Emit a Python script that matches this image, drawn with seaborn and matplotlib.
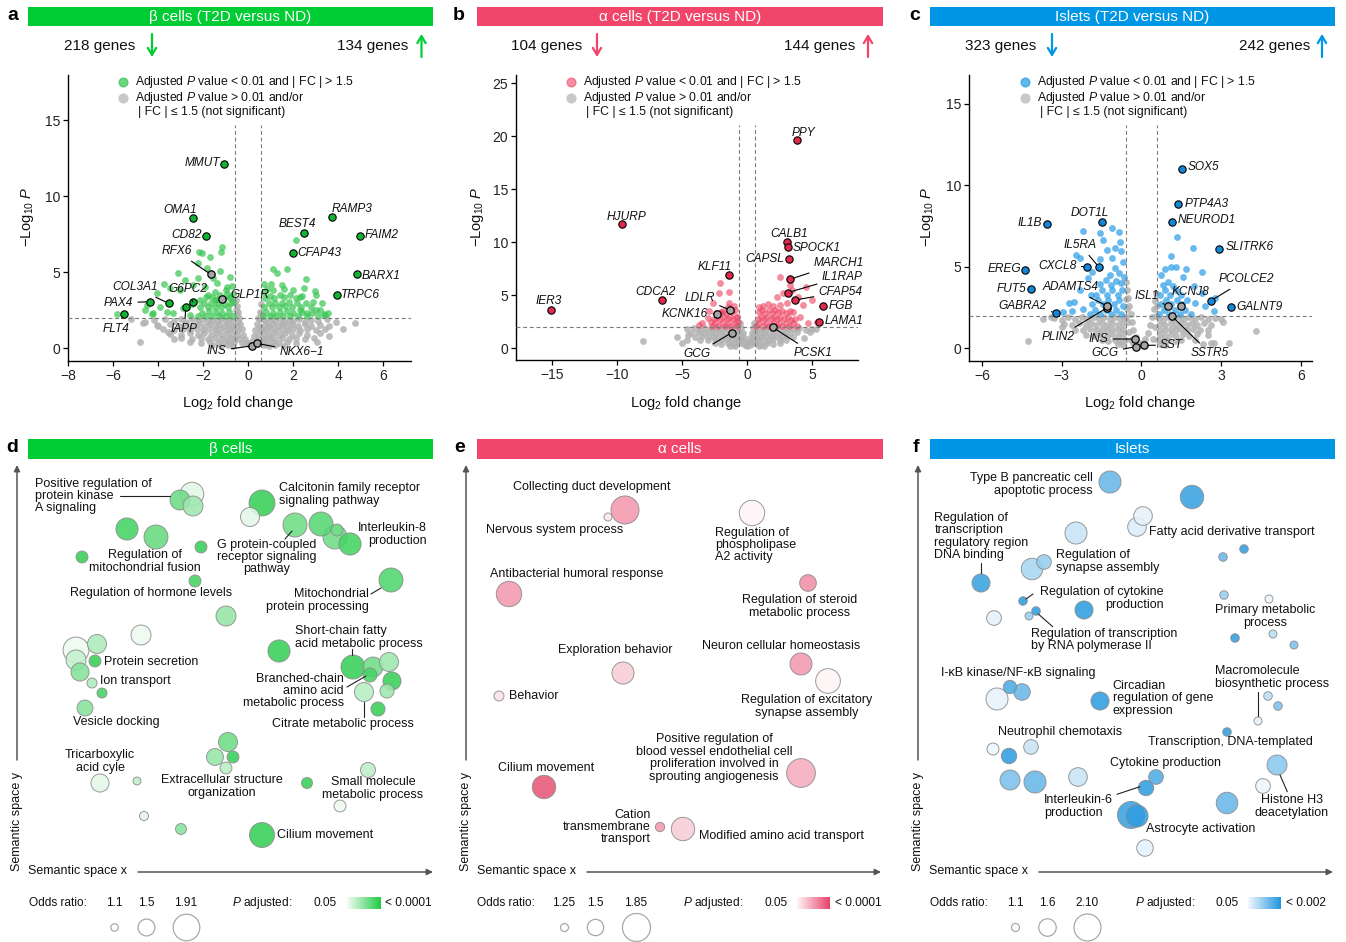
import numpy as np
import pandas as pd
import matplotlib
matplotlib.use("Agg")
import matplotlib.pyplot as plt
import seaborn as sns
from matplotlib.colors import LinearSegmentedColormap
from matplotlib.patches import Rectangle, FancyArrowPatch
from matplotlib.lines import Line2D
from matplotlib.ticker import MultipleLocator

# ------------------------------------------------------------------
# Volcano data (log2 fold change, -log10 P)
# ------------------------------------------------------------------
beta_counts = (218, 134)
beta_grey = [
    (-4.6, 1.7), (-4.2, 1.85), (-3.7, 1.9), (-3.3, 1.8), (-3.0, 1.9), (-2.75, 1.75), (-2.5, 1.9), (-2.25, 1.8),
    (-2.0, 1.92), (-1.8, 1.75), (-1.6, 1.88), (-1.4, 1.78), (-1.2, 1.92), (-1.0, 1.8), (-0.85, 1.9), (-0.7, 1.78),
    (0.7, 1.85), (0.85, 1.75), (1.0, 1.9), (1.2, 1.8), (1.4, 1.92), (1.6, 1.75), (1.8, 1.88), (2.0, 1.8),
    (2.25, 1.92), (2.5, 1.75), (2.8, 1.88), (3.1, 1.8), (3.5, 1.9), (3.9, 1.75),
    (-4.0, 1.5), (-3.5, 1.6), (-3.1, 1.45), (-2.8, 1.6), (-2.5, 1.5), (-2.2, 1.58), (-1.95, 1.45), (-1.7, 1.6),
    (-1.5, 1.5), (-1.3, 1.6), (-1.1, 1.45), (-0.9, 1.58), (-0.72, 1.5), (0.72, 1.55), (0.9, 1.45), (1.1, 1.6),
    (1.3, 1.5), (1.5, 1.6), (1.7, 1.45), (1.95, 1.58), (2.2, 1.5), (2.5, 1.6), (2.8, 1.45), (3.2, 1.55), (3.6, 1.5),
    (-3.8, 1.25), (-3.3, 1.2), (-2.9, 1.3), (-2.6, 1.2), (-2.3, 1.3), (-2.0, 1.22), (-1.75, 1.3), (-1.5, 1.2),
    (-1.25, 1.3), (-1.0, 1.2), (-0.8, 1.28), (-0.65, 1.2), (0.65, 1.25), (0.8, 1.18), (1.0, 1.3), (1.25, 1.2),
    (1.5, 1.3), (1.75, 1.2), (2.0, 1.28), (2.3, 1.2), (2.6, 1.3), (3.0, 1.2), (3.4, 1.25),
    (-3.5, 0.95), (-3.0, 0.9), (-2.6, 1.0), (-2.25, 0.9), (-1.95, 1.0), (-1.65, 0.9), (-1.4, 0.98), (-1.15, 0.9),
    (-0.9, 1.0), (-0.7, 0.9), (0.7, 0.95), (0.9, 0.88), (1.15, 1.0), (1.4, 0.9), (1.65, 1.0), (1.95, 0.9),
    (2.25, 0.98), (2.6, 0.9), (3.19, 0.99),
    (-3.0, 0.65), (-2.5, 0.6), (-2.1, 0.7), (-1.8, 0.6), (-1.5, 0.68), (-1.2, 0.6), (-0.95, 0.7), (-0.75, 0.6),
    (-0.6, 0.68), (0.6, 0.65), (0.75, 0.6), (0.95, 0.7), (1.2, 0.6), (1.5, 0.68), (1.8, 0.6), (2.1, 0.7),
    (2.5, 0.6), (2.9, 0.65),
    (-2.6, 0.42), (-2.1, 0.38), (-1.7, 0.45), (-1.35, 0.38), (-1.05, 0.42), (-0.8, 0.35), (-0.62, 0.42),
    (0.62, 0.4), (0.8, 0.35), (1.05, 0.42), (1.35, 0.38), (1.7, 0.42), (2.1, 0.38), (3.04, 0.44),
    (-1.6, 0.22), (-1.2, 0.18), (-0.9, 0.22), (-0.7, 0.15), (0.7, 0.2), (0.9, 0.15), (1.2, 0.22), (1.6, 0.18),
    (-0.55, 3.2), (-0.5, 2.8), (-0.45, 2.4), (-0.4, 2.0), (-0.35, 1.6), (-0.3, 1.25), (-0.25, 0.9), (-0.15, 0.6),
    (-0.05, 0.35), (0.05, 0.3), (0.15, 0.5), (0.25, 0.8), (0.3, 1.2), (0.38, 1.6), (0.45, 2.0), (0.5, 2.4),
    (0.55, 2.9), (-0.52, 2.2), (-0.48, 1.7), (-0.45, 1.2), (-0.5, 0.9), (-0.4, 0.6), (0.45, 0.9), (0.5, 1.4),
    (0.52, 1.9), (0.4, 0.55), (-0.3, 0.35), (0.3, 0.35), (-0.55, 1.4), (0.55, 1.2), (-0.56, 2.5), (0.56, 2.2),
    (-4.81, 0.39), (-4.67, 1.64), (-4.07, 1.53), (-3.56, 1.10), (4.74, 1.69), (-3.3, 0.6), (-5.2, 1.9),
    (4.2, 1.3), (3.6, 0.8),
]
beta_sig = [
    (-1.19, 6.68), (-1.21, 6.31), (-2.18, 6.31), (-2.08, 6.29), (-1.70, 6.02), (-2.22, 5.58), (-3.11, 4.93),
    (-1.85, 5.26), (-1.26, 5.10), (-0.81, 4.71), (-2.81, 4.49), (-2.22, 4.60), (-1.56, 4.60), (-3.73, 4.25),
    (-3.48, 3.94), (-3.04, 3.83), (-2.44, 4.16), (-1.93, 4.05), (-1.41, 4.27), (-0.96, 4.05), (-4.07, 3.61),
    (-4.52, 2.85), (-4.59, 2.52), (-4.22, 2.30), (-3.93, 2.74), (-3.63, 2.41), (-3.33, 2.30), (-2.92, 2.63),
    (-5.85, 2.26), (-2.15, 3.18), (-1.78, 3.50), (-1.48, 3.18), (-0.81, 3.39), (-0.67, 3.07), (-2.6, 2.2),
    (-2.5, 2.9), (-4.3, 2.25),
    (-2.25, 2.1), (-2.05, 2.35), (-1.9, 2.1), (-1.75, 2.45), (-1.6, 2.15), (-1.45, 2.4), (-1.3, 2.1),
    (-1.15, 2.35), (-1.0, 2.1), (-0.85, 2.4), (-0.7, 2.15), (-2.15, 2.75), (-1.95, 2.95), (-1.8, 2.7),
    (-1.65, 3.0), (-1.5, 2.75), (-1.35, 2.95), (-1.2, 2.7), (-1.05, 2.9), (-0.9, 2.7), (-0.75, 2.95),
    (-1.9, 3.35), (-1.6, 3.4), (-1.4, 3.25), (-1.25, 3.5), (-1.1, 3.3), (-0.95, 3.55), (-0.8, 3.3),
    (-0.68, 3.6), (-1.5, 3.7), (-1.0, 3.85), (-0.72, 4.1),
    (0.65, 2.1), (0.8, 2.4), (0.95, 2.1), (1.1, 2.35), (1.25, 2.1), (1.4, 2.4), (1.55, 2.15), (1.7, 2.45),
    (1.85, 2.1), (2.0, 2.35), (2.2, 2.15), (2.4, 2.4), (2.6, 2.1), (2.85, 2.3), (3.1, 2.15), (3.35, 2.25),
    (0.7, 2.75), (0.9, 2.95), (1.05, 2.7), (1.2, 3.0), (1.35, 2.75), (1.5, 3.0), (1.65, 2.8), (1.8, 3.05),
    (1.95, 2.75), (2.15, 2.95), (2.35, 2.7), (2.55, 2.95), (2.8, 2.7), (3.0, 2.5), (0.75, 3.3), (0.95, 3.45),
    (1.15, 3.3), (1.4, 3.5), (1.6, 3.35), (1.85, 3.5), (2.1, 3.3), (2.4, 3.45),
    (2.10, 7.12), (1.70, 5.19), (1.08, 5.19), (1.26, 4.93), (0.71, 4.20), (0.99, 4.20), (1.48, 4.16),
    (2.55, 4.53), (2.47, 3.94), (2.96, 3.77), (3.01, 3.50), (1.11, 3.83), (2.0, 3.83), (2.30, 3.39),
    (2.89, 3.07), (3.26, 2.96), (3.19, 2.52), (3.41, 2.19), (3.56, 2.30), (2.30, 2.52), (2.59, 2.30),
    (0.85, 3.9), (1.6, 3.9), (0.7, 3.7),
]
beta_genes = ["MMUT", "OMA1", "CD82", "RFX6", "COL3A1", "G6PC2", "PAX4", "FLT4", "IAPP", "GLP1R",
              "INS", "NKX6−1", "RAMP3", "BEST4", "FAIM2", "CFAP43", "BARX1", "TRPC6"]
beta_gene_lfc = [-1.08, -2.46, -1.89, -1.67, -3.54, -2.47, -4.37, -5.51, -2.78, -1.17,
                 0.18, 0.37, 3.73, 2.46, 4.96, 1.99, 4.82, 3.93]
beta_gene_nlp = [12.13, 8.58, 7.40, 4.86, 2.96, 3.06, 3.06, 2.27, 2.69, 3.24,
                 0.17, 0.33, 8.60, 7.60, 7.40, 6.28, 4.88, 3.50]
beta_hollow = ["RFX6", "GLP1R", "INS", "NKX6−1"]

alpha_counts = (104, 144)
alpha_grey = [
    (-4.6, 1.8), (-4.1, 1.9), (-3.6, 1.75), (-3.2, 1.9), (-2.8, 1.8), (-2.4, 1.92), (-2.0, 1.78), (-1.6, 1.9),
    (-1.2, 1.8), (-0.8, 1.9), (0.8, 1.85), (1.2, 1.75), (1.6, 1.9), (2.0, 1.8), (2.4, 1.92), (2.8, 1.78),
    (3.2, 1.9), (3.6, 1.8), (4.0, 1.9), (4.5, 1.75), (5.0, 1.85),
    (-4.3, 1.45), (-3.8, 1.55), (-3.3, 1.45), (-2.9, 1.55), (-2.5, 1.45), (-2.1, 1.55), (-1.7, 1.45),
    (-1.3, 1.55), (-0.9, 1.45), (-0.65, 1.55), (0.65, 1.5), (0.9, 1.42), (1.3, 1.55), (1.7, 1.45), (2.1, 1.55),
    (2.5, 1.45), (2.9, 1.55), (3.3, 1.45), (3.8, 1.55), (4.83, 1.5),
    (-4.0, 1.1), (-3.5, 1.2), (-3.0, 1.1), (-2.6, 1.2), (-2.2, 1.1), (-1.8, 1.2), (-1.4, 1.1), (-1.0, 1.2),
    (-0.7, 1.1), (0.7, 1.15), (1.0, 1.08), (1.4, 1.2), (1.8, 1.1), (2.2, 1.2), (2.6, 1.1), (3.0, 1.2), (3.5, 1.1),
    (-4.64, 0.79), (-3.6, 0.8), (-3.0, 0.75), (-2.5, 0.85), (-2.0, 0.75), (-1.6, 0.85), (-1.2, 0.75),
    (-0.85, 0.85), (-0.6, 0.75), (0.6, 0.8), (0.85, 0.75), (1.2, 0.85), (1.6, 0.75), (2.0, 0.85), (2.5, 0.75),
    (3.0, 0.8),
    (-2.5, 0.5), (-2.0, 0.45), (-1.5, 0.52), (-1.1, 0.45), (-0.75, 0.5), (0.75, 0.5), (1.1, 0.45), (1.5, 0.52),
    (2.0, 0.45), (2.5, 0.5), (-1.3, 0.25), (-0.9, 0.2), (0.9, 0.25), (1.3, 0.2),
    (-0.55, 2.4), (-0.45, 1.9), (-0.35, 1.4), (-0.25, 0.95), (-0.1, 0.5), (0.1, 0.5), (0.25, 0.95), (0.35, 1.4),
    (0.45, 1.9), (0.55, 2.4), (-0.5, 1.3), (-0.4, 0.8), (-0.2, 0.3), (0.0, 0.2), (0.2, 0.3), (0.4, 0.8),
    (0.5, 1.3), (-0.5, 0.5), (0.5, 0.5),
    (-8.02, 0.72), (-5.41, 1.04), (-4.5, 1.3), (-5.0, 0.5), (4.4, 1.0), (5.3, 1.8),
]
alpha_sig = [
    (-2.08, 6.13), (-1.40, 5.34), (-2.16, 5.19), (-2.62, 4.25), (-1.40, 4.25), (-1.99, 3.46), (-2.77, 2.52),
    (-3.7, 2.2), (-3.5, 2.4), (-3.0, 2.9), (-2.9, 3.5), (-1.0, 4.0), (-0.8, 3.0),
    (-2.7, 2.1), (-2.45, 2.35), (-2.2, 2.1), (-1.95, 2.4), (-1.7, 2.15), (-1.45, 2.4), (-1.2, 2.1),
    (-0.95, 2.35), (-0.75, 2.1), (-2.55, 2.8), (-2.3, 3.0), (-2.05, 2.75), (-1.8, 3.0), (-1.55, 2.75),
    (-1.3, 3.0), (-1.05, 2.75), (-0.8, 2.95), (-0.7, 2.5), (-2.1, 3.35), (-1.85, 3.55), (-1.6, 3.3),
    (-1.15, 3.4), (-0.9, 3.6), (-1.5, 3.9), (-2.4, 3.3),
    (2.52, 6.76), (3.29, 5.97), (3.42, 5.5), (4.52, 5.82), (3.93, 4.87), (5.01, 4.56), (2.27, 4.87),
    (2.73, 5.25), (5.34, 2.52), (4.31, 4.09), (3.50, 3.46), (4.06, 2.99), (4.70, 2.36), (3.04, 4.24),
    (0.7, 2.1), (0.95, 2.35), (1.2, 2.1), (1.45, 2.4), (1.7, 2.15), (1.95, 2.4), (2.2, 2.1), (2.45, 2.35),
    (2.7, 2.1), (2.95, 2.4), (3.2, 2.15), (3.5, 2.35), (3.8, 2.1),
    (0.8, 2.75), (1.05, 3.0), (1.3, 2.75), (1.55, 3.0), (1.8, 2.75), (2.05, 3.0), (2.3, 2.75), (2.55, 3.0),
    (2.8, 2.75), (3.1, 2.95), (3.4, 2.7), (3.7, 2.8),
    (0.9, 3.4), (1.15, 3.6), (1.4, 3.35), (1.65, 3.6), (1.9, 3.35), (2.15, 3.65), (2.4, 3.4), (2.7, 3.55),
    (3.0, 3.3), (3.3, 3.5), (1.2, 4.0), (1.6, 4.2), (2.0, 4.0), (2.5, 4.1), (0.9, 3.9),
]
alpha_genes = ["PPY", "HJURP", "IER3", "CDCA2", "KLF11", "LDLR", "KCNK16", "GCG", "CALB1", "SPOCK1",
               "CAPSL", "MARCH1", "IL1RAP", "CFAP54", "FGB", "LAMA1", "PCSK1"]
alpha_gene_lfc = [3.80, -9.60, -15.08, -6.53, -1.42, -1.31, -2.34, -1.19, 3.04, 3.11,
                  3.19, 3.29, 3.11, 3.68, 5.85, 5.54, 1.96]
alpha_gene_nlp = [19.62, 11.70, 3.65, 4.59, 6.92, 3.62, 3.24, 1.48, 10.0, 9.59,
                  8.46, 6.51, 5.25, 4.56, 3.99, 2.52, 1.98]
alpha_hollow = ["LDLR", "KCNK16", "GCG", "PCSK1"]

islet_counts = (323, 242)
islet_grey = [
    (-3.3, 1.85), (-3.0, 1.75), (-2.75, 1.9), (-2.5, 1.8), (-2.25, 1.92), (-2.0, 1.78), (-1.8, 1.9), (-1.6, 1.8),
    (-1.4, 1.92), (-1.2, 1.78), (-1.0, 1.9), (-0.8, 1.8), (-0.65, 1.9), (0.65, 1.85), (0.8, 1.75), (1.0, 1.9),
    (1.2, 1.8), (1.4, 1.92), (1.6, 1.78), (1.8, 1.9), (2.0, 1.8), (2.25, 1.9), (2.5, 1.78), (2.75, 1.88), (3.0, 1.8),
    (-2.9, 1.5), (-2.6, 1.45), (-2.35, 1.55), (-2.1, 1.45), (-1.9, 1.55), (-1.7, 1.45), (-1.5, 1.55), (-1.3, 1.45),
    (-1.1, 1.55), (-0.9, 1.45), (-0.7, 1.55), (0.7, 1.5), (0.9, 1.45), (1.1, 1.55), (1.3, 1.45), (1.5, 1.55),
    (1.7, 1.45), (1.9, 1.55), (2.1, 1.45), (2.35, 1.55), (2.6, 1.45),
    (-2.5, 1.15), (-2.2, 1.1), (-1.95, 1.2), (-1.7, 1.1), (-1.5, 1.2), (-1.3, 1.1), (-1.1, 1.2), (-0.9, 1.1),
    (-0.7, 1.2), (0.7, 1.15), (0.9, 1.1), (1.1, 1.2), (1.3, 1.1), (1.5, 1.2), (1.7, 1.1), (1.95, 1.2), (2.2, 1.1),
    (2.5, 1.15),
    (-2.1, 0.8), (-1.8, 0.75), (-1.55, 0.85), (-1.3, 0.75), (-1.1, 0.85), (-0.9, 0.75), (-0.7, 0.85), (0.7, 0.8),
    (0.9, 0.75), (1.1, 0.85), (1.3, 0.75), (1.55, 0.85), (1.8, 0.75), (2.1, 0.85), (2.5, 0.8),
    (-1.5, 0.5), (-1.25, 0.45), (-1.0, 0.52), (-0.8, 0.45), (-0.62, 0.5), (0.62, 0.5), (0.8, 0.45), (1.0, 0.52),
    (1.25, 0.45), (1.5, 0.5), (2.0, 0.48), (-0.9, 0.25), (-0.7, 0.2), (0.7, 0.25), (0.9, 0.2), (2.3, 0.25),
    (2.6, 0.3),
    (-0.58, 4.1), (-0.55, 3.6), (-0.5, 3.1), (-0.45, 2.6), (-0.4, 2.1), (-0.35, 1.6), (-0.3, 1.15), (-0.2, 0.7),
    (-0.1, 0.35), (0.05, 0.3), (0.15, 0.55), (0.25, 0.95), (0.32, 1.4), (0.4, 1.9), (0.47, 2.4), (0.52, 2.9),
    (0.56, 3.4), (-0.55, 2.4), (-0.5, 1.6), (-0.45, 1.0), (-0.4, 0.5), (0.45, 0.6), (0.5, 1.3), (0.55, 2.0),
    (-0.58, 3.0), (-0.58, 1.9), (0.58, 2.6), (-0.3, 0.3),
    (-4.28, 0.47), (-3.71, 1.78), (-2.99, 1.33), (3.08, 1.64), (4.31, 1.06), (2.71, 0.35), (-3.4, 1.9),
    (3.3, 0.3),
]
islet_sig = [
    (-2.18, 7.22), (-1.55, 7.10), (-1.11, 7.41), (-0.86, 7.16), (-0.80, 6.55), (-1.43, 6.65), (-1.30, 6.04),
    (-0.99, 6.14), (-2.45, 5.73), (-2.30, 5.57), (-1.55, 5.46), (-1.11, 5.52), (-1.86, 4.71), (-2.55, 2.86),
    (-2.74, 2.76), (-2.93, 2.25), (-0.75, 6.0), (-0.7, 5.3), (-1.0, 4.9), (-2.0, 4.3), (-2.3, 3.6),
    (-1.9, 3.3), (-2.2, 2.4), (-2.6, 2.3),
    (-1.95, 2.1), (-1.75, 2.35), (-1.55, 2.1), (-1.35, 2.35), (-1.15, 2.1), (-0.95, 2.35), (-0.75, 2.1),
    (-1.85, 2.7), (-1.65, 2.95), (-1.45, 2.7), (-1.25, 2.95), (-1.05, 2.7), (-0.85, 2.95), (-0.68, 2.6),
    (-1.7, 3.3), (-1.5, 3.55), (-1.3, 3.3), (-1.1, 3.55), (-0.9, 3.3), (-0.72, 3.6), (-1.55, 3.95),
    (-1.35, 4.2), (-1.15, 3.9), (-0.95, 4.15), (-0.75, 4.0), (-1.2, 4.5), (-0.85, 4.6), (-0.65, 4.35),
    (1.33, 6.81), (1.92, 6.14), (1.11, 5.67), (0.89, 4.85), (1.11, 5.01), (1.67, 4.85), (2.27, 4.71),
    (1.58, 4.40), (1.96, 3.83), (2.27, 3.38), (2.77, 3.07), (2.71, 2.31), (1.3, 5.0), (0.75, 4.5), (2.0, 2.8),
    (2.4, 2.6),
    (0.65, 2.1), (0.85, 2.35), (1.05, 2.1), (1.25, 2.35), (1.45, 2.1), (1.65, 2.35), (1.85, 2.1),
    (0.72, 2.7), (0.92, 2.95), (1.12, 2.7), (1.32, 2.95), (1.52, 2.7), (1.72, 2.95), (0.68, 3.3), (0.88, 3.55),
    (1.08, 3.3), (1.28, 3.55), (1.48, 3.3), (0.8, 3.9), (1.0, 4.1), (1.2, 3.85),
]
islet_genes = ["SOX5", "PTP4A3", "NEUROD1", "SLITRK6", "PCOLCE2", "GALNT9", "KCNJ8", "ISL1", "SSTR5", "SST",
               "INS", "GCG", "PLIN2", "ADAMTS4", "GABRA2", "FUT5", "EREG", "CXCL8", "IL5RA", "DOT1L", "IL1B"]
islet_gene_lfc = [1.53, 1.39, 1.14, 2.93, 2.62, 3.36, 1.49, 0.98, 1.14, 0.10,
                  -0.25, -0.22, -1.28, -1.30, -3.22, -4.15, -4.38, -2.05, -1.59, -1.49, -3.54]
islet_gene_nlp = [10.99, 8.86, 7.78, 6.12, 2.93, 2.52, 2.62, 2.62, 1.98, 0.18,
                  0.57, 0.10, 2.50, 2.60, 2.19, 3.62, 4.81, 5.01, 4.97, 7.78, 7.61]
islet_hollow = ["KCNJ8", "ISL1", "SSTR5", "SST", "INS", "GCG", "PLIN2", "ADAMTS4"]

# ------------------------------------------------------------------
# GO term semantic-space data
# ------------------------------------------------------------------
d_sx = [16.4, 15.2, 16.5, 23.4, 22.2, 9.9, 12.8, 5.4, 17.3, 26.7, 29.3, 30.7, 30.9, 32.2, 36.3, 16.7,
        19.8, 11.3, 4.8, 6.9, 4.8, 6.7, 5.2, 6.4, 7.4, 5.7, 25.1, 32.5, 34.5, 36.1, 34.2, 36.4,
        33.6, 35.9, 35.0, 20.0, 18.7, 20.5, 19.8, 7.2, 10.9, 11.6, 15.3, 23.4, 27.9, 34.0, 31.2]
d_sy = [38.6, 38.0, 37.4, 37.7, 36.3, 35.1, 34.3, 32.3, 33.3, 35.5, 35.6, 34.3, 35.0, 33.6, 30.0, 29.9,
        26.4, 24.5, 23.0, 23.6, 22.0, 21.9, 20.8, 19.7, 18.7, 17.2, 22.9, 21.3, 21.3, 21.8, 20.5, 19.9,
        18.8, 18.9, 17.1, 13.8, 12.3, 12.3, 11.2, 9.7, 9.9, 6.4, 5.1, 4.5, 9.7, 11.0, 7.4]
d_odds = [1.78, 1.63, 1.63, 1.88, 1.59, 1.72, 1.80, 1.29, 1.29, 1.80, 1.80, 1.80, 1.29, 1.72, 1.80, 1.29,
          1.63, 1.63, 1.88, 1.59, 1.63, 1.29, 1.55, 1.21, 1.21, 1.46, 1.72, 1.80, 1.63, 1.59, 1.38, 1.55,
          1.59, 1.38, 1.38, 1.59, 1.50, 1.29, 1.29, 1.55, 1.12, 1.17, 1.25, 1.84, 1.25, 1.42, 1.29]
d_padj = [0.03, 0.0009, 0.004, 0.0002, 0.03, 0.0003, 0.0008, 0.0002, 0.0002, 0.001, 0.0005, 0.001, 0.001,
          0.0003, 0.0004, 0.0003, 0.003, 0.04, 0.04, 0.006, 0.012, 0.0002, 0.002, 0.006, 0.0003, 0.002,
          0.0002, 0.0002, 0.001, 0.004, 0.0003, 0.0002, 0.008, 0.004, 0.0002, 0.001, 0.003, 0.0002, 0.008,
          0.03, 0.01, 0.03, 0.002, 0.0002, 0.0002, 0.01, 0.04]

e_sx = [14.7, 13.0, 27.4, 3.1, 33.0, 14.5, 2.1, 32.3, 35.0, 32.3, 6.6, 18.2, 20.5]
e_sy = [37.0, 36.3, 36.7, 28.6, 29.7, 20.7, 18.4, 21.6, 19.9, 10.7, 9.3, 5.3, 5.1]
e_odds = [1.85, 1.25, 1.77, 1.77, 1.51, 1.67, 1.31, 1.67, 1.75, 1.87, 1.71, 1.29, 1.71]
e_padj = [0.002, 0.03, 0.048, 0.002, 0.0015, 0.012, 0.025, 0.002, 0.048, 0.004, 0.0002, 0.002, 0.012]

f_sx = [18.0, 26.2, 21.3, 20.7, 14.6, 10.2, 11.4, 5.1, 29.3, 31.4, 9.3, 10.6, 9.9, 6.4, 15.4, 29.4,
        33.9, 30.5, 34.3, 36.4, 8.0, 9.2, 6.7, 17.0, 33.8, 34.8, 32.8, 29.7, 6.3, 10.1, 7.9, 8.0,
        10.5, 14.8, 22.6, 21.6, 20.1, 20.7, 34.7, 33.3, 29.7, 21.5]
f_sy = [39.8, 38.3, 36.4, 35.3, 34.7, 31.1, 31.8, 29.7, 32.3, 33.1, 27.9, 26.9, 26.4, 26.2, 27.0, 28.5,
        28.1, 24.2, 24.6, 23.5, 19.3, 18.8, 18.1, 17.9, 18.4, 17.4, 15.9, 14.8, 13.1, 13.3, 12.4, 10.0,
        9.8, 10.3, 10.3, 9.2, 6.5, 6.4, 11.5, 9.4, 7.7, 3.2]
f_odds = [1.84, 1.91, 1.66, 1.66, 1.84, 1.81, 1.45, 1.63, 1.13, 1.13, 1.13, 1.13, 1.10, 1.45, 1.63, 1.13,
          1.10, 1.13, 1.10, 1.10, 1.38, 1.55, 1.84, 1.63, 1.13, 1.13, 1.10, 1.13, 1.31, 1.45, 1.49, 1.73,
          1.84, 1.66, 1.45, 1.49, 2.10, 1.84, 1.73, 1.45, 1.81, 1.55]
f_padj = [0.006, 0.003, 0.04, 0.035, 0.025, 0.016, 0.012, 0.003, 0.006, 0.0025, 0.0025, 0.0025, 0.012,
          0.04, 0.0025, 0.012, 0.045, 0.0025, 0.02, 0.008, 0.004, 0.006, 0.04, 0.0025, 0.02, 0.008, 0.04,
          0.0025, 0.045, 0.025, 0.0025, 0.008, 0.006, 0.025, 0.004, 0.0025, 0.003, 0.0025, 0.01, 0.045,
          0.006, 0.04]

d_key_odds = [1.1, 1.5, 1.91]
e_key_odds = [1.25, 1.5, 1.85]
f_key_odds = [1.1, 1.6, 2.10]

# ------------------------------------------------------------------
# Styling
# ------------------------------------------------------------------
sns.set_theme(style="white")
plt.rcParams["font.family"] = ["Liberation Sans", "DejaVu Sans"]
plt.rcParams["mathtext.fontset"] = "custom"
plt.rcParams["mathtext.rm"] = "Liberation Sans"
plt.rcParams["mathtext.it"] = "Liberation Sans:italic"
plt.rcParams["mathtext.bf"] = "Liberation Sans:bold"

GREEN, PINK, BLUE = "#00CC33", "#F2456A", "#0096E6"
W, H, DPI = 1346, 942, 100
PT = 24  # volcano marker area (pt^2)
fig = plt.figure(figsize=(W / DPI, H / DPI), dpi=DPI)


def fx(x):
    return x / W


def fy(y):
    return 1 - y / H


def px_axes(l, t, r, b):
    return fig.add_axes([l / W, 1 - b / H, (r - l) / W, (b - t) / H])


def ftext(x, y, s, **kw):
    kw.setdefault("color", "#111111")
    return fig.text(fx(x), fy(y), s, **kw)


def farrow(x0, y0, x1, y1, color, style="-|>", lw=1.2, ms=9):
    fig.add_artist(FancyArrowPatch((fx(x0), fy(y0)), (fx(x1), fy(y1)), transform=fig.transFigure,
                                   arrowstyle=style, mutation_scale=ms, lw=lw, color=color,
                                   shrinkA=0, shrinkB=0))


def header(x0, x1, y0, y1, color, title, letter, lx, ly):
    fig.add_artist(Rectangle((fx(x0), fy(y1)), (x1 - x0) / W, (y1 - y0) / H,
                             transform=fig.transFigure, color=color, lw=0))
    ftext((x0 + x1) / 2, (y0 + y1) / 2 + 0.5, title, ha="center", va="center", fontsize=11, color="white")
    ftext(lx, ly, letter, ha="center", va="center", fontsize=14, fontweight="bold", color="black")


# ------------------------------------------------------------------
# Volcano panels
# ------------------------------------------------------------------
def volcano(box, grey, sig, genes, lfc, nlp, hollow, layout, pt_color, pt_alpha, lab_color,
            xlim, ylim, xstep, ystep, vtop):
    ax = px_axes(*box)
    g = pd.DataFrame(grey, columns=["lfc", "nlp"])
    s = pd.DataFrame(sig, columns=["lfc", "nlp"])
    sns.scatterplot(data=g, x="lfc", y="nlp", color="#B2B2B2", s=PT, linewidth=0, alpha=0.85,
                    ax=ax, legend=False, zorder=2)
    sns.scatterplot(data=s, x="lfc", y="nlp", color=pt_color, s=PT, linewidth=0, alpha=pt_alpha,
                    ax=ax, legend=False, zorder=3)
    ax.axhline(2, color="#7A7A7A", lw=0.8, ls=(0, (3.5, 2.5)), zorder=4)
    ax.vlines([-np.log2(1.5), np.log2(1.5)], ylim[0], vtop, color="#7A7A7A", lw=0.8,
              linestyles=(0, (3.5, 2.5)), zorder=4)
    lab = pd.DataFrame({"gene": genes, "lfc": lfc, "nlp": nlp})
    lab["hollow"] = lab["gene"].isin(hollow)
    sns.scatterplot(data=lab[~lab["hollow"]], x="lfc", y="nlp", color=lab_color, s=PT + 4,
                    edgecolor="black", linewidth=0.8, ax=ax, legend=False, zorder=6)
    sns.scatterplot(data=lab[lab["hollow"]], x="lfc", y="nlp", color="#A6A6A6", s=PT + 4,
                    edgecolor="black", linewidth=0.9, ax=ax, legend=False, zorder=6)
    for name, gx, gy in zip(genes, lfc, nlp):
        tx, ty, ha, leader = layout[name]
        kw = dict(ha=ha, va="center", fontsize=8.6, fontstyle="italic", color="#111111", zorder=7)
        if leader:
            ax.annotate(name, xy=(gx, gy), xytext=(tx, ty),
                        arrowprops=dict(arrowstyle="-", color="black", lw=0.8, shrinkA=1, shrinkB=2.5),
                        **kw)
        else:
            ax.text(tx, ty, name, **kw)
    ax.set_xlim(*xlim)
    ax.set_ylim(*ylim)
    ax.xaxis.set_major_locator(MultipleLocator(xstep))
    ax.yaxis.set_major_locator(MultipleLocator(ystep))
    ax.set_xlabel("")
    ax.set_ylabel("")
    sns.despine(ax=ax)
    for sp in ("left", "bottom"):
        ax.spines[sp].set_color("black")
        ax.spines[sp].set_linewidth(1.0)
    ax.tick_params(bottom=True, left=True, direction="out", length=3.5, width=0.9, pad=2,
                   labelsize=10, colors="black", labelcolor="#222222")
    ax.set_facecolor("none")
    return ax


def volcano_key(xm, xt, xt3, color, alpha):
    fig.add_artist(Line2D([fx(xm)], [fy(82)], marker="o", ms=6.3, mfc=color, mec=color, alpha=alpha,
                          ls="none", transform=fig.transFigure))
    fig.add_artist(Line2D([fx(xm)], [fy(98)], marker="o", ms=6.3, mfc="#C8C8C8", mec="#C8C8C8",
                          ls="none", transform=fig.transFigure))
    ftext(xt, 82, "Adjusted $P$ value < 0.01 and | FC | > 1.5", ha="left", va="center", fontsize=8.8)
    ftext(xt, 98, "Adjusted $P$ value > 0.01 and/or", ha="left", va="center", fontsize=8.8)
    ftext(xt3, 112, "| FC | ≤ 1.5 (not significant)", ha="left", va="center", fontsize=8.8)


def gene_counts(counts, xdn, adn, xup, aup, color):
    ftext(xdn, 46, f"{counts[0]} genes", ha="center", va="center", fontsize=11)
    ftext(xup, 46, f"{counts[1]} genes", ha="center", va="center", fontsize=11)
    farrow(adn, 34, adn, 57, color, style="->,head_length=0.5,head_width=0.3", lw=1.6, ms=10)
    farrow(aup, 57, aup, 34, color, style="->,head_length=0.5,head_width=0.3", lw=1.6, ms=10)


beta_layout = {
    "MMUT": (-1.25, 12.18, "right", False), "OMA1": (-3.03, 9.09, "center", False),
    "CD82": (-2.07, 7.44, "right", False), "RFX6": (-3.18, 6.39, "center", True),
    "COL3A1": (-5.04, 4.01, "center", True), "G6PC2": (-2.69, 3.90, "center", True),
    "PAX4": (-5.11, 3.0, "right", True), "FLT4": (-5.88, 1.27, "center", True),
    "IAPP": (-2.84, 1.27, "center", True), "GLP1R": (-0.78, 3.50, "left", True),
    "INS": (-0.96, -0.16, "right", True), "NKX6−1": (1.38, -0.22, "left", True),
    "RAMP3": (4.6, 9.13, "center", False), "BEST4": (2.2, 8.15, "center", False),
    "FAIM2": (5.19, 7.44, "left", False), "CFAP43": (2.2, 6.26, "left", False),
    "BARX1": (5.04, 4.75, "left", False), "TRPC6": (4.11, 3.5, "left", False),
}
alpha_layout = {
    "PPY": (4.31, 20.35, "center", False), "HJURP": (-9.24, 12.42, "center", False),
    "IER3": (-15.26, 4.47, "center", False), "CDCA2": (-7.02, 5.31, "center", False),
    "KLF11": (-2.52, 7.64, "center", False), "LDLR": (-2.46, 4.78, "right", True),
    "KCNK16": (-2.98, 3.24, "right", True), "GCG": (-3.87, -0.53, "center", True),
    "CALB1": (3.24, 10.79, "center", False), "SPOCK1": (3.5, 9.43, "left", False),
    "CAPSL": (2.86, 8.46, "right", False), "MARCH1": (5.08, 8.02, "left", True),
    "IL1RAP": (5.72, 6.76, "left", True), "CFAP54": (5.47, 5.31, "left", True),
    "FGB": (6.23, 3.99, "left", False), "LAMA1": (5.93, 2.58, "left", False),
    "PCSK1": (5.08, -0.47, "center", True),
}
islet_layout = {
    "SOX5": (1.73, 11.15, "left", False), "PTP4A3": (1.61, 8.86, "left", False),
    "NEUROD1": (1.36, 7.88, "left", False), "SLITRK6": (3.15, 6.2, "left", False),
    "PCOLCE2": (2.9, 4.24, "left", True), "GALNT9": (3.56, 2.56, "left", False),
    "KCNJ8": (1.86, 3.44, "center", True), "ISL1": (0.64, 3.21, "right", True),
    "SSTR5": (2.58, -0.31, "center", True), "SST": (0.7, 0.2, "left", True),
    "INS": (-1.24, 0.57, "right", True), "GCG": (-1.36, -0.27, "center", True),
    "PLIN2": (-3.12, 0.68, "center", True), "ADAMTS4": (-2.68, 3.74, "center", True),
    "GABRA2": (-3.56, 2.6, "right", True), "FUT5": (-4.31, 3.66, "right", False),
    "EREG": (-4.5, 4.85, "right", False), "CXCL8": (-2.43, 5.05, "right", True),
    "IL5RA": (-2.3, 6.34, "center", True), "DOT1L": (-1.93, 8.29, "center", False),
    "IL1B": (-3.74, 7.67, "right", False),
}

header(28, 433, 7, 26, GREEN, "β cells (T2D versus ND)", "a", 12.5, 16)
header(477, 883, 7, 26, PINK, "α cells (T2D versus ND)", "b", 459, 16)
header(930, 1335, 7, 26, BLUE, "Islets (T2D versus ND)", "c", 915, 16)

volcano((68.3, 75, 411, 361), beta_grey, beta_sig, beta_genes, beta_gene_lfc, beta_gene_nlp, beta_hollow,
        beta_layout, "#3CC755", 0.72, "#12B332", (-8, 7.23), (-0.83, 17.96), 2, 5, 14.7)
volcano((515.7, 75, 858, 360), alpha_grey, alpha_sig, alpha_genes, alpha_gene_lfc, alpha_gene_nlp,
        alpha_hollow, alpha_layout, "#EE4766", 0.62, "#E0294F", (-17.76, 8.51), (-1.1, 25.78), 5, 5, 21.1)
volcano((969.3, 75, 1312, 361), islet_grey, islet_sig, islet_genes, islet_gene_lfc, islet_gene_nlp,
        islet_hollow, islet_layout, "#2E9FE6", 0.72, "#1388D8", (-6.47, 6.41), (-0.78, 16.78), 3, 5, 13.7)

volcano_key(123, 135, 138, "#3CC755", 0.75)
volcano_key(571, 583, 586, "#EE4766", 0.6)
volcano_key(1025, 1037, 1040, "#2E9FE6", 0.75)

gene_counts(beta_counts, 100, 152, 373, 421.5, GREEN)
gene_counts(alpha_counts, 547, 597, 820, 868, PINK)
gene_counts(islet_counts, 1001, 1052, 1275, 1322, BLUE)

for xc in (237.5, 686, 1140):
    ftext(xc, 403, "Log$_2$ fold change", ha="center", va="center", fontsize=10.5)
for xc in (28, 477, 928):
    ftext(xc, 217, "−Log$_{10}$ $P$", ha="center", va="center", rotation=90, fontsize=10.5)

# ------------------------------------------------------------------
# Semantic-space bubble panels
# ------------------------------------------------------------------
def odds_to_area(odds, or0, r0, slope):
    radius_px = r0 + (np.asarray(odds, dtype=float) - or0) * slope
    return (2 * radius_px * 72 / DPI) ** 2


def bubbles(box, sx, sy, odds, padj, cmap, hue_rng, size_par, labels, leaders):
    ax = px_axes(*box)
    df = pd.DataFrame({"sx": sx, "sy": sy, "odds": odds, "padj": padj})
    df["nlp"] = -np.log10(df["padj"])
    df["area"] = odds_to_area(df["odds"], *size_par)
    df = df.sort_values("area", ascending=False)
    sns.scatterplot(data=df, x="sx", y="sy", hue="nlp", palette=cmap, hue_norm=hue_rng,
                    size="area", sizes=(1, 1000), size_norm=(1, 1000), edgecolor="#8C8C8C",
                    linewidth=0.7, alpha=0.88, legend=False, ax=ax, zorder=3)
    for text, x, y, ha in labels:
        ax.text(x, y, text, ha=ha, va="center", multialignment=ha, fontsize=9, linespacing=1.05,
                color="#111111", zorder=5)
    for (x0, y0), (x1, y1) in leaders:
        ax.plot([x0, x1], [y0, y1], color="#222222", lw=0.8, zorder=4)
    ax.set_xlim(0, 40.5)
    ax.set_ylim(0, 42)
    ax.axis("off")
    return ax


def semantic_axes(xv, xt, xa0, xa1):
    farrow(xv, 760, xv, 465, "#555555", lw=1.1, ms=9)
    ftext(xv, 871, "Semantic space y", rotation=90, ha="center", va="bottom", fontsize=9)
    ftext(xt, 871, "Semantic space x", ha="left", va="center", fontsize=9)
    farrow(xa0, 872, xa1, 872, "#555555", lw=1.1, ms=9)


def bubble_key(xlab, key_odds, key_xs, size_par, xp, x005, bar, xhi, hi_text, cmap):
    ftext(xlab, 903, "Odds ratio:", ha="left", va="center", fontsize=8.6)
    areas = odds_to_area(key_odds, *size_par)
    for o, xo, a in zip(key_odds, key_xs, areas):
        ftext(xo, 903, f"{o:g}" if o != 2.10 else "2.10", ha="center", va="center", fontsize=8.6)
        fig.add_artist(Line2D([fx(xo)], [fy(927)], marker="o", ms=np.sqrt(a), mfc="white", mec="#A8A8A8",
                              mew=0.9, ls="none", transform=fig.transFigure))
    ftext(xp, 903, "$P$ adjusted:", ha="left", va="center", fontsize=8.6)
    ftext(x005, 903, "0.05", ha="center", va="center", fontsize=8.6)
    cax = px_axes(bar[0], 897, bar[1], 909)
    cax.imshow(np.linspace(0, 1, 200)[None, :], cmap=cmap, aspect="auto")
    cax.axis("off")
    ftext(xhi, 903, hi_text, ha="left", va="center", fontsize=8.6)


cmap_d = LinearSegmentedColormap.from_list("beta_go", ["#F5FCF6", "#1FCB45"])
cmap_e = LinearSegmentedColormap.from_list("alpha_go", ["#FEF5F7", "#E8436A"])
cmap_f = LinearSegmentedColormap.from_list("islet_go", ["#F3F9FE", "#2196DE"])

size_d = (1.1, 3.7, 11.85)
size_e = (1.25, 4.0, 16.7)
size_f = (1.1, 4.0, 9.5)

d_labels = [
    ("Positive regulation of\nprotein kinase\nA signaling", 0.7, 38.4, "left"),
    ("Calcitonin family receptor\nsignaling pathway", 25.1, 38.55, "left"),
    ("Interleukin-8\nproduction", 39.9, 34.55, "right"),
    ("Regulation of\nmitochondrial fusion", 11.7, 31.85, "center"),
    ("G protein-coupled\nreceptor signaling\npathway", 23.9, 32.3, "center"),
    ("Regulation of hormone levels", 12.35, 28.7, "center"),
    ("Mitochondrial\nprotein processing", 34.1, 27.95, "right"),
    ("Short-chain fatty\nacid metabolic process", 26.7, 24.25, "left"),
    ("Branched-chain\namino acid\nmetabolic process", 31.6, 18.9, "right"),
    ("Citrate metabolic process", 31.47, 15.6, "center"),
    ("Protein secretion", 7.6, 21.8, "left"),
    ("Ion transport", 7.2, 19.9, "left"),
    ("Vesicle docking", 8.87, 15.8, "center"),
    ("Tricarboxylic\nacid cyle", 7.2, 11.85, "center"),
    ("Extracellular structure\norganization", 19.4, 9.35, "center"),
    ("Small molecule\nmetabolic process", 34.5, 9.15, "center"),
    ("Cilium movement", 24.9, 4.45, "left"),
]
d_leaders = [((9.2, 38.4), (14.2, 38.4)), ((25.7, 34.1), (26.4, 34.9)), ((34.3, 28.6), (35.3, 29.2)),
             ((32.4, 23.1), (32.4, 22.5)), ((31.9, 19.3), (33.8, 20.4)), ((33.6, 16.3), (33.6, 17.8))]

e_labels = [
    ("Collecting duct development", 11.4, 39.3, "center"),
    ("Nervous system process", 7.68, 35.0, "center"),
    ("Regulation of\nphospholipase\nA2 activity", 23.7, 33.5, "left"),
    ("Antibacterial humoral response", 9.85, 30.63, "center"),
    ("Regulation of steroid\nmetabolic process", 32.2, 27.35, "center"),
    ("Exploration behavior", 13.68, 23.0, "center"),
    ("Neuron cellular homeostasis", 30.3, 23.4, "center"),
    ("Behavior", 3.07, 18.43, "left"),
    ("Regulation of excitatory\nsynapse assembly", 32.9, 17.35, "center"),
    ("Positive regulation of\nblood vessel endothelial cell\nproliferation involved in\nsprouting angiogenesis",
     23.6, 12.2, "center"),
    ("Cilium movement", 6.77, 11.17, "center"),
    ("Cation\ntransmembrane\ntransport", 17.3, 5.3, "right"),
    ("Modified amino acid transport", 22.13, 4.4, "left"),
]

f_labels = [
    ("Type B pancreatic cell\napoptotic process", 16.27, 39.57, "right"),
    ("Regulation of\ntranscription\nregulatory region\nDNA binding", 0.43, 34.33, "left"),
    ("Fatty acid derivative transport", 21.93, 34.77, "left"),
    ("Regulation of\nsynapse assembly", 12.57, 31.85, "left"),
    ("Regulation of cytokine\nproduction", 23.33, 28.17, "right"),
    ("Regulation of transcription\nby RNA polymerase II", 10.07, 24.0, "left"),
    ("Primary metabolic\nprocess", 33.5, 26.35, "center"),
    ("I-κB kinase/NF-κB signaling", 1.1, 20.67, "left"),
    ("Circadian\nregulation of gene\nexpression", 18.27, 18.17, "left"),
    ("Macromolecule\nbiosynthetic process", 28.5, 20.25, "left"),
    ("Neutrophil chemotaxis", 6.77, 14.77, "left"),
    ("Transcription, DNA-templated", 21.83, 13.8, "left"),
    ("Cytokine production", 18.0, 11.67, "left"),
    ("Interleukin-6\nproduction", 11.37, 7.35, "left"),
    ("Astrocyte activation", 21.6, 5.07, "left"),
    ("Histone H3\ndeacetylation", 36.17, 7.35, "center"),
]
f_leaders = [((5.1, 31.7), (5.1, 30.7)), ((10.3, 28.6), (9.6, 28.1)), ((10.83, 26.6), (12.27, 25.33)),
             ((32.8, 18.83), (32.8, 16.4)), ((18.7, 8.57), (21.0, 9.33)), ((35.73, 8.83), (35.0, 10.5))]

header(28, 433, 439, 459, GREEN, "β cells", "d", 12, 448)
header(477, 883, 439, 459, PINK, "α cells", "e", 460, 448)
header(930, 1335, 439, 459, BLUE, "Islets", "f", 916, 448)

bubbles((28, 460, 433, 880), d_sx, d_sy, d_odds, d_padj, cmap_d, (1.3, 4.0), size_d, d_labels, d_leaders)
bubbles((478, 460, 883, 880), e_sx, e_sy, e_odds, e_padj, cmap_e, (1.3, 4.0), size_e, e_labels, [])
bubbles((930, 460, 1335, 880), f_sx, f_sy, f_odds, f_padj, cmap_f, (1.3, 2.7), size_f, f_labels, f_leaders)

semantic_axes(17, 28, 138, 433)
semantic_axes(466, 477, 587, 881)
semantic_axes(918, 929, 1039, 1333)

bubble_key(29, d_key_odds, [114, 146, 186], size_d, 232, 325, (347, 380), 385, "< 0.0001", cmap_d)
bubble_key(477, e_key_odds, [564, 595, 636], size_e, 683, 776, (797, 830), 835, "< 0.0001", cmap_e)
bubble_key(930, f_key_odds, [1015, 1047, 1087], size_f, 1135, 1227, (1248, 1281), 1286, "< 0.002", cmap_f)

fig.savefig("out.png", dpi=DPI, facecolor="white")
